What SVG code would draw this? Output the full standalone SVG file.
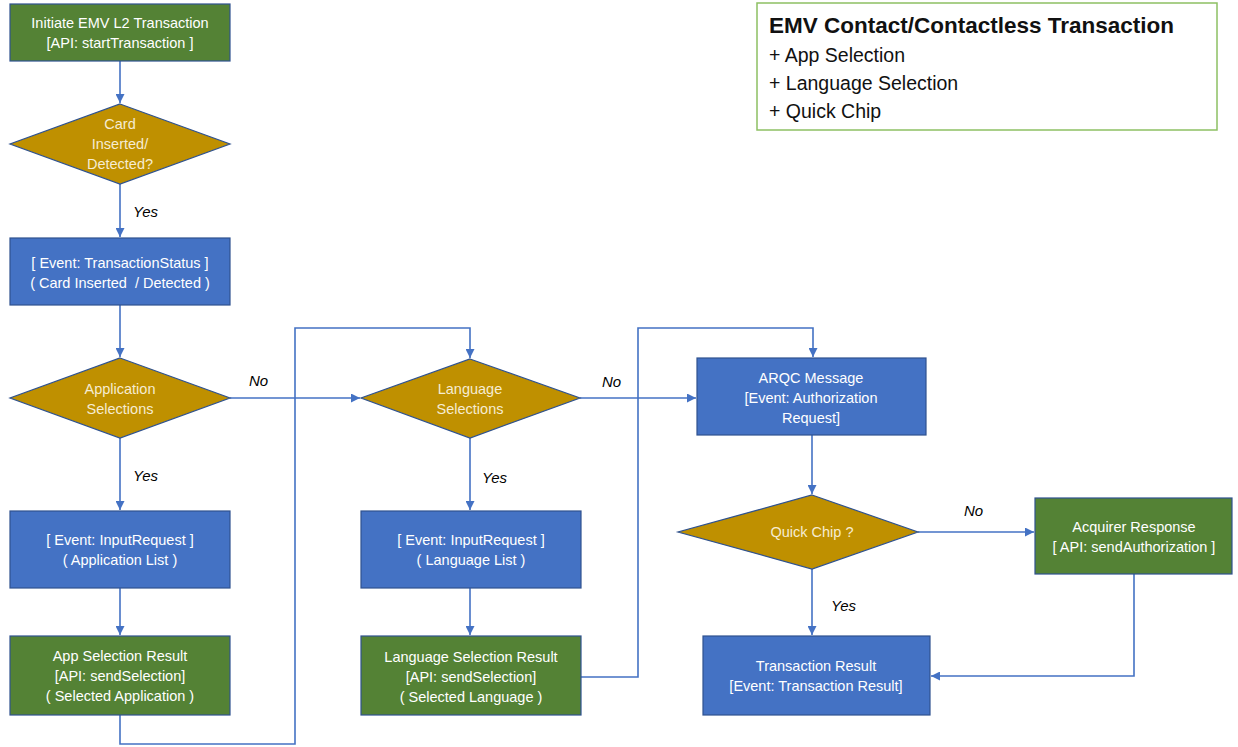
<svg xmlns="http://www.w3.org/2000/svg" width="1238" height="747" viewBox="0 0 1238 747">
<defs>
<marker id="ah" viewBox="0 0 10 10" refX="10" refY="5" markerWidth="9" markerHeight="9" markerUnits="userSpaceOnUse" orient="auto">
<path d="M0,0 L10,5 L0,10 z" fill="#4472C4"/>
</marker>
</defs>
<style>
.g{fill:#548235;stroke:#2F528F;stroke-width:1.2}
.b{fill:#4472C4;stroke:#2F528F;stroke-width:1.2}
.d{fill:#BF9000;stroke:#2F528F;stroke-width:1.2}
.t{font-family:"Liberation Sans",Arial,sans-serif;font-size:14.5px;fill:#ffffff;text-anchor:middle}
.dt{font-family:"Liberation Sans",Arial,sans-serif;font-size:14.5px;fill:#f6ecd2;text-anchor:middle}
.l{font-family:"Liberation Sans",Arial,sans-serif;font-size:15px;font-style:italic;fill:#000}
.c{fill:none;stroke:#4472C4;stroke-width:1.6}
.lg{font-family:"Liberation Sans",Arial,sans-serif;fill:#111}
</style>
<rect width="1238" height="747" fill="#ffffff"/>
<g id="connectors">
<path class="c" d="M120,61 V103" marker-end="url(#ah)"/>
<path class="c" d="M120,184 V237" marker-end="url(#ah)"/>
<path class="c" d="M120,305 V357" marker-end="url(#ah)"/>
<path class="c" d="M120,438 V510" marker-end="url(#ah)"/>
<path class="c" d="M120,588 V635" marker-end="url(#ah)"/>
<path class="c" d="M120,715 V744 H295 V328 H470 V358" marker-end="url(#ah)"/>
<path class="c" d="M230,398 H360" marker-end="url(#ah)"/>
<path class="c" d="M470,438 V510" marker-end="url(#ah)"/>
<path class="c" d="M470,588 V635" marker-end="url(#ah)"/>
<path class="c" d="M581,677 H638 V328 H813 V357" marker-end="url(#ah)"/>
<path class="c" d="M580,398 H696" marker-end="url(#ah)"/>
<path class="c" d="M812,435 V494" marker-end="url(#ah)"/>
<path class="c" d="M918,532 H1034" marker-end="url(#ah)"/>
<path class="c" d="M812,569 V635" marker-end="url(#ah)"/>
<path class="c" d="M1134,574 V676 H931" marker-end="url(#ah)"/>
<text class="l" x="133" y="217">Yes</text>
<text class="l" x="249" y="386">No</text>
<text class="l" x="133" y="481">Yes</text>
<text class="l" x="602" y="387">No</text>
<text class="l" x="482" y="483">Yes</text>
<text class="l" x="964" y="516">No</text>
<text class="l" x="831" y="611">Yes</text>
</g>
<g id="n1"><rect class="g" x="10" y="4" width="220" height="57"/>
<text class="t" x="120" y="28">Initiate EMV L2 Transaction</text>
<text class="t" x="120" y="48">[API: startTransaction ]</text></g>
<g id="n2"><polygon class="d" points="120,104 230,144 120,184 10,144"/>
<text class="dt" x="120" y="129">Card</text>
<text class="dt" x="120" y="149">Inserted/</text>
<text class="dt" x="120" y="169">Detected?</text></g>
<g id="n3"><rect class="b" x="10" y="238" width="220" height="67"/>
<text class="t" x="120" y="268">[ Event: TransactionStatus ]</text>
<text class="t" x="120" y="288" xml:space="preserve">( Card Inserted  / Detected )</text></g>
<g id="n4"><polygon class="d" points="120,358 230,398 120,438 10,398"/>
<text class="dt" x="120" y="394">Application</text>
<text class="dt" x="120" y="414">Selections</text></g>
<g id="n5"><rect class="b" x="10" y="511" width="220" height="77"/>
<text class="t" x="120" y="545">[ Event: InputRequest ]</text>
<text class="t" x="120" y="565">( Application List )</text></g>
<g id="n6"><rect class="g" x="10" y="636" width="220" height="79"/>
<text class="t" x="120" y="661">App Selection Result</text>
<text class="t" x="120" y="681">[API: sendSelection]</text>
<text class="t" x="120" y="701">( Selected Application )</text></g>
<g id="n7"><polygon class="d" points="470,359 580,398 470,438 361,398"/>
<text class="dt" x="470" y="394">Language</text>
<text class="dt" x="470" y="414">Selections</text></g>
<g id="n8"><rect class="b" x="361" y="511" width="220" height="77"/>
<text class="t" x="471" y="545">[ Event: InputRequest ]</text>
<text class="t" x="471" y="565">( Language List )</text></g>
<g id="n9"><rect class="g" x="361" y="636" width="220" height="79"/>
<text class="t" x="471" y="662">Language Selection Result</text>
<text class="t" x="471" y="682">[API: sendSelection]</text>
<text class="t" x="471" y="702">( Selected Language )</text></g>
<g id="n10"><rect class="b" x="697" y="358" width="229" height="77"/>
<text class="t" x="811" y="383">ARQC Message</text>
<text class="t" x="811" y="403">[Event: Authorization</text>
<text class="t" x="811" y="423">Request]</text></g>
<g id="n11"><polygon class="d" points="812,495 918,532 812,569 678,532"/>
<text class="dt" x="812" y="537">Quick Chip ?</text></g>
<g id="n12"><rect class="g" x="1035" y="498" width="197" height="76"/>
<text class="t" x="1134" y="532">Acquirer Response</text>
<text class="t" x="1134" y="552">[ API: sendAuthorization ]</text></g>
<g id="n13"><rect class="b" x="703" y="636" width="227" height="79"/>
<text class="t" x="816" y="671">Transaction Result</text>
<text class="t" x="816" y="691">[Event: Transaction Result]</text></g>
<g id="legend"><rect x="757" y="3" width="460" height="127" fill="#ffffff" stroke="#8DC063" stroke-width="1.5"/>
<text class="lg" x="769" y="33" font-size="22.5" font-weight="bold">EMV Contact/Contactless Transaction</text>
<text class="lg" x="769" y="62" font-size="19.5">+ App Selection</text>
<text class="lg" x="769" y="90" font-size="19.5">+ Language Selection</text>
<text class="lg" x="769" y="118" font-size="19.5">+ Quick Chip</text></g>
</svg>
